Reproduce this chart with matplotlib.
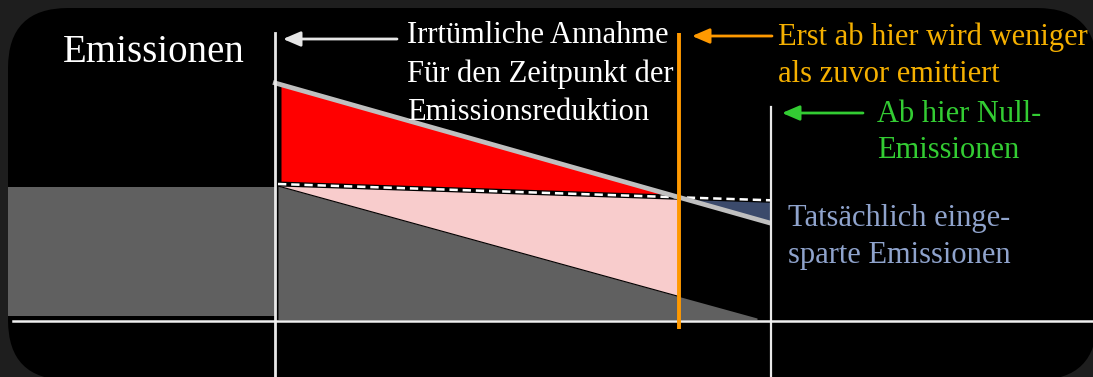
import numpy as np
import matplotlib
matplotlib.use("Agg")
import matplotlib.pyplot as plt
from matplotlib.patches import FancyBboxPatch

plt.rcParams['font.family'] = ['Liberation Serif', 'DejaVu Serif']
plt.rcParams['lines.scale_dashes'] = False

# ---- data (time axis in chart units, emissions above the zero line) ----
t_decision = 275          # assumed moment of emission reduction
t_break = 679             # from here on less than before
t_zero = 771              # from here on zero emissions
t_actual_end = 757        # actual path reaches zero

before_t = [8, 275]
before_level = [133, 133]

assumed_t = [273, 679, 771]
assumed_e = [237.6, 122.7, 96.7]

dashed_t = [278, 679, 771]
dashed_e = [136, 122.7, 119.7]

actual_t = [278, 757]
actual_e = [134, 2]

labels_white = ["Irrtümliche Annahme", "Für den Zeitpunkt der", "Emissionsreduktion"]
labels_orange = ["Erst ab hier wird weniger", "als zuvor emittiert"]
labels_green = ["Ab hier Null-", "Emissionen"]
labels_blue = ["Tatsächlich einge-", "sparte Emissionen"]
title = "Emissionen"

# ---- figure ----
fig = plt.figure(figsize=(10.93, 3.77), dpi=100, facecolor='#1e1e1e')
ax = fig.add_axes([0, 0, 1, 1])
ax.set_xlim(0, 1093)
ax.set_ylim(-57, 320)
ax.axis('off')
ax.set_facecolor('none')

ax.add_patch(FancyBboxPatch((8, -60), 1089, 372,
                            boxstyle='round,pad=0,rounding_size=60',
                            fc='black', ec='none', zorder=0))

GRAY = '#606060'
PINK = '#f8cccc'
RED = '#ff0000'
BLUE = '#3b4a6b'

# left gray block (emissions before)
ax.fill_between(before_t, 4, before_level, color=GRAY, lw=0, zorder=1)
# actual emission path region
ax.fill_between(actual_t, 0.5, actual_e, color=GRAY, lw=0, zorder=1)

# pink: between dashed and actual until break
xp = np.array([dashed_t[0], t_break])
ax.fill_between(xp, np.interp(xp, actual_t, actual_e),
                np.interp(xp, dashed_t, dashed_e), color=PINK, lw=0, zorder=2)
ax.plot(xp, np.interp(xp, actual_t, actual_e), color='black', lw=0.8, zorder=3)

# red: between assumed and dashed until break
xr = np.array([281, t_break])
ax.fill_between(xr, np.interp(xr, dashed_t, dashed_e),
                np.interp(xr, assumed_t, assumed_e), color=RED, lw=0, zorder=2)

# blue: saved emissions after break
xb = np.array([t_break, t_zero])
ax.fill_between(xb, np.interp(xb, assumed_t, assumed_e),
                np.interp(xb, dashed_t, dashed_e), color=BLUE, lw=0, zorder=2)

# dashed reference line
ax.plot(dashed_t, dashed_e, color='black', lw=3.6, zorder=4)
ax.plot(dashed_t, dashed_e, color='white', lw=1.8, dashes=(6, 3.5), zorder=5)

# assumed line
ax.plot(assumed_t, assumed_e, color='#bfbfbf', lw=3.4, zorder=6,
        solid_capstyle='butt')

# vertical markers
ax.plot([t_decision, t_decision], [287, -60], color='#e8e8e8', lw=2.0, zorder=7)
ax.plot([t_zero, t_zero], [213, -60], color='#e8e8e8', lw=1.6, zorder=7)
ax.plot([t_break, t_break], [287, -9], color='#ff9900', lw=2.8, zorder=8,
        solid_capstyle='butt')

# zero line
ax.plot([13, 1093], [-0.5, -0.5], color='#f0f0f0', lw=1.8, zorder=7)

# arrows
def arrow(x0, x1, y, color):
    ax.annotate('', xy=(x1, y), xytext=(x0, y),
                arrowprops=dict(arrowstyle='-|>,head_length=1.05,head_width=0.45',
                                color=color, lw=2.0, shrinkA=0, shrinkB=0,
                                mutation_scale=10), zorder=9)

arrow(397, 283, 281, '#e6e6e6')
arrow(772, 692, 284, '#ff9900')
arrow(863, 782, 207, '#33cc33')

# texts
FS = 22
ax.text(63, 320 - 62, title, color='white', fontsize=28, va='baseline',
        ha='left', zorder=10)
for lbl, yb in zip(labels_white, [43, 82, 120]):
    ax.text(407, 320 - yb, lbl, color='white', fontsize=FS, va='baseline', zorder=10)
for lbl, yb in zip(labels_orange, [45, 82]):
    ax.text(778, 320 - yb, lbl, color='#f5b000', fontsize=FS, va='baseline', zorder=10)
for lbl, yb in zip(labels_green, [122, 158]):
    ax.text(877, 320 - yb, lbl, color='#33cc33', fontsize=FS, va='baseline', zorder=10)
for lbl, yb in zip(labels_blue, [226, 263]):
    ax.text(788, 320 - yb, lbl, color='#8fa3cc', fontsize=FS, va='baseline', zorder=10)

fig.savefig('out.png', dpi=100, facecolor=fig.get_facecolor())
